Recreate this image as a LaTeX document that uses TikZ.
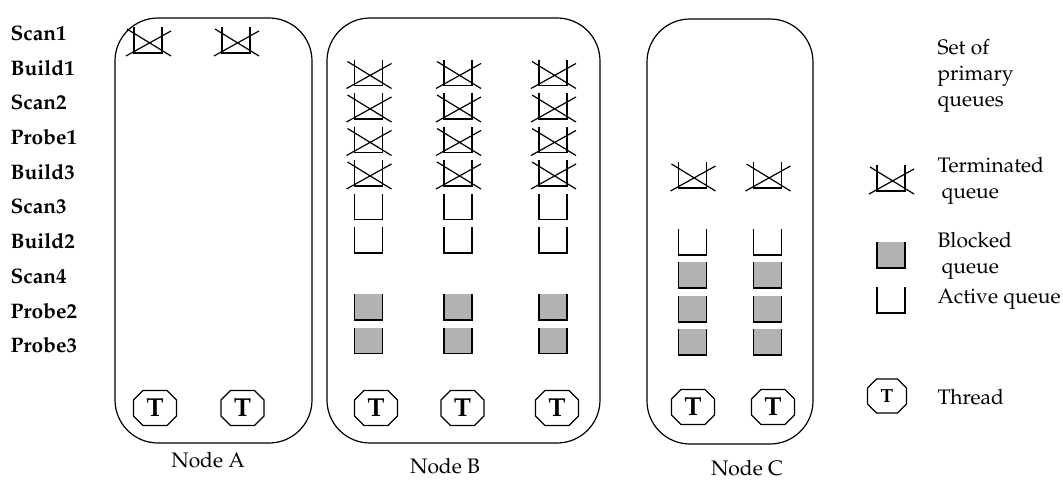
\documentclass[tikz,border=0pt]{standalone}
\usepackage[T1]{fontenc}
\usepackage{mathpazo}
\usetikzlibrary{positioning}

% queue glyphs, drawn round the centre of their node
\newcommand\qcentre{\coordinate (qc) at (path picture bounding box.center);}
\newcommand\qcup{\draw ([shift={(-14pt,13pt)}]qc) -- ([shift={(-14pt,-13pt)}]qc)
  -- ([shift={(14pt,-13pt)}]qc) -- ([shift={(14pt,13pt)}]qc);}
\newcommand\qcross{\draw ([shift={(-22pt,-16pt)}]qc) -- ([shift={(23pt,9pt)}]qc)
  ([shift={(-21pt,11pt)}]qc) -- ([shift={(23pt,-16pt)}]qc);}
\newcommand\qfill{\fill[black!30] ([shift={(-14pt,-13pt)}]qc) rectangle ([shift={(14pt,13pt)}]qc);}
% octagon: half width, half height, corner cut
\newcommand\octagon[3]{\draw ([shift={(-#1pt+#3pt,#2pt)}]qc) -- ([shift={(#1pt-#3pt,#2pt)}]qc)
  -- ([shift={(#1pt,#2pt-#3pt)}]qc) -- ([shift={(#1pt,-#2pt+#3pt)}]qc)
  -- ([shift={(#1pt-#3pt,-#2pt)}]qc) -- ([shift={(-#1pt+#3pt,-#2pt)}]qc)
  -- ([shift={(-#1pt,-#2pt+#3pt)}]qc) -- ([shift={(-#1pt,#2pt-#3pt)}]qc) -- cycle;}

\tikzset{
  nodebox/.style={draw, rounded corners=43pt, inner sep=0pt},
  qbase/.style={inner sep=0pt, minimum width=50pt, minimum height=36pt},
  termq/.style={qbase, path picture={\qcentre\qcup\qcross}},
  activeq/.style={qbase, path picture={\qcentre\qcup}},
  blockq/.style={qbase, path picture={\qcentre\qfill\qcup}},
  thread/.style={inner sep=0pt, minimum width=46pt, minimum height=38pt,
    font=\bfseries\fontsize{26}{26}\selectfont, path picture={\qcentre\octagon{21.5}{17.5}{9.5}}},
  legthread/.style={thread, font=\bfseries\fontsize{19}{19}\selectfont,
    path picture={\qcentre\octagon{19.5}{17}{9}}},
  rowlabel/.style={anchor=west, inner sep=0pt, font=\bfseries\fontsize{21}{24}\selectfont},
  legtext/.style={anchor=west, inner sep=0pt, align=left, font=\fontsize{21}{26}\selectfont},
  boxname/.style={inner sep=0pt, font=\fontsize{21}{24}\selectfont}
}

\begin{document}
\begin{tikzpicture}[x=1pt, y=-1pt, line width=1.2pt]
    \useasboundingbox (0,0) rectangle (1063,480);

    % operator rows
    \foreach \name [count=\i] in {Scan1,Build1,Scan2,Probe1,Build3,Scan3,Build2,Scan4,Probe2,Probe3}
        \node[rowlabel] (l\name) at (10,{33+34.7*(\i-1)}) {\name};

    % the three nodes
    \node[nodebox, minimum width=197pt, minimum height=425pt] (nodeA) at (213.5,230.5) {};
    \node[nodebox, minimum width=273pt, minimum height=425pt] (nodeB) at (463.5,230.5) {};
    \node[nodebox, minimum width=166pt, minimum height=425pt] (nodeC) at (730,231.5) {};
    \node[boxname] (nameA) at (208,460) {Node A};
    \node[boxname] (nameB) at (445,466) {Node B};
    \node[boxname] (nameC) at (747,468) {Node C};

    % node A
    \node[termq] (aq1) at (148,40) {};
    \node[termq] (aq2) at (236,40) {};
    \node[thread] (at1) at (155,408) {T};
    \node[thread] (at2) at (242.5,408) {T};

    % node B
    \foreach \x [count=\c] in {368.5,458,553} {
        \node[termq]   (b\c q1) at (\x,72.5)  {};
        \node[termq]   (b\c q2) at (\x,106)   {};
        \node[termq]   (b\c q3) at (\x,139.5) {};
        \node[termq]   (b\c q4) at (\x,173)   {};
        \node[activeq] (b\c q5) at (\x,206.5) {};
        \node[activeq] (b\c q6) at (\x,240)   {};
        \node[blockq]  (b\c q7) at (\x,307)   {};
        \node[blockq]  (b\c q8) at (\x,340.5) {};
    }
    \node[thread] (bt1) at (376,408) {T};
    \node[thread] (bt2) at (462.5,408) {T};
    \node[thread] (bt3) at (557,408) {T};

    % node C
    \foreach \x [count=\c] in {692.5,767.5} {
        \node[termq]   (c\c q1) at (\x,175) {};
        \node[activeq] (c\c q2) at (\x,242) {};
        \node[blockq]  (c\c q3) at (\x,275) {};
        \node[blockq]  (c\c q4) at (\x,309) {};
        \node[blockq]  (c\c q5) at (\x,342) {};
    }
    \node[thread] (ct1) at (693,407) {T};
    \node[thread] (ct2) at (773,407) {T};

    % legend
    \node[legtext] (setq) at (937,76) {Set of\\primary\\queues};
    \node[termq] (legterm) at (891,178) {};
    \node[legtext] (termtxt) at (937,181) {Terminated\\\hspace*{4pt}queue};
    \node[blockq] (legblock) at (891,255) {};
    \node[legtext] (blocktxt) at (937,256) {Blocked\\\hspace*{4pt}queue};
    \node[activeq] (legactive) at (891,300) {};
    \node[legtext] (activetxt) at (937,299) {Active queue};
    \node[legthread] (legthr) at (887,396) {T};
    \node[legtext] (thrtxt) at (937,397) {Thread};
\end{tikzpicture}
\end{document}
